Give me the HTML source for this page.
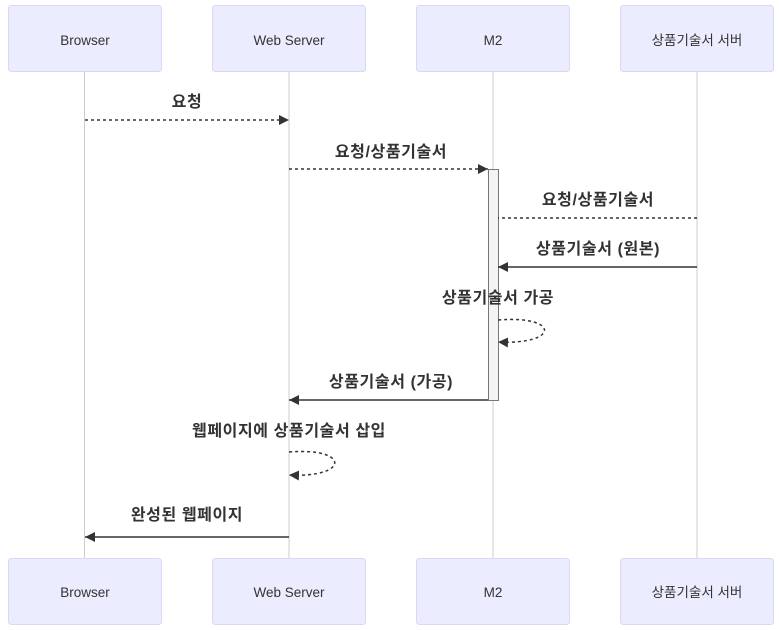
<!DOCTYPE html>
<html><head><meta charset="utf-8"><style>
body{margin:0;background:#fff;}
svg{display:block;font-family:"Liberation Sans","Noto Sans CJK KR",sans-serif;}
.box{fill:#ECECFF;stroke:#DCD6F7;stroke-width:1;}
.bt{font-size:13.5px;fill:#333;text-anchor:middle;}
.ml{font-size:16px;letter-spacing:0.6px;font-weight:bold;fill:#333;text-anchor:middle;}
.ll{stroke:#ccc;stroke-width:1;}
.m{stroke:#333;stroke-width:1.5;fill:none;}
.d{stroke-dasharray:3,3;}
</style></head><body>
<svg width="779" height="630" viewBox="0 0 779 630">
<defs><marker id="a" markerWidth="12" markerHeight="12" refX="10" refY="5" orient="auto" markerUnits="userSpaceOnUse"><path d="M0,0 L10,5 L0,10 z" fill="#333"/></marker></defs>
<line class="ll" x1="84.5" y1="71" x2="84.5" y2="558"/>
<line class="ll" x1="289" y1="71" x2="289" y2="558"/>
<line class="ll" x1="493" y1="71" x2="493" y2="558"/>
<line class="ll" x1="697" y1="71" x2="697" y2="558"/>
<g>
<rect class="box" x="8.5" y="5.5" width="153" height="66" rx="3"/><text class="bt" x="85" y="45">Browser</text>
<rect class="box" x="212.5" y="5.5" width="153" height="66" rx="3"/><text class="bt" x="289" y="45">Web Server</text>
<rect class="box" x="416.5" y="5.5" width="153" height="66" rx="3"/><text class="bt" x="493" y="45">M2</text>
<rect class="box" x="620.5" y="5.5" width="153" height="66" rx="3"/><text class="bt" x="697" y="45">상품기술서 서버</text>
<rect class="box" x="8.5" y="558.5" width="153" height="66" rx="3"/><text class="bt" x="85" y="597">Browser</text>
<rect class="box" x="212.5" y="558.5" width="153" height="66" rx="3"/><text class="bt" x="289" y="597">Web Server</text>
<rect class="box" x="416.5" y="558.5" width="153" height="66" rx="3"/><text class="bt" x="493" y="597">M2</text>
<rect class="box" x="620.5" y="558.5" width="153" height="66" rx="3"/><text class="bt" x="697" y="597">상품기술서 서버</text>
</g>
<rect x="488.5" y="169.5" width="10" height="231" fill="#f4f4f4" stroke="#777"/>
<text class="ml" x="187" y="107">요청</text>
<line class="m d" x1="85" y1="120" x2="289" y2="120" marker-end="url(#a)"/>
<text class="ml" x="391" y="157">요청/상품기술서</text>
<line class="m d" x1="289" y1="169" x2="488" y2="169" marker-end="url(#a)"/>
<text class="ml" x="598" y="205">요청/상품기술서</text>
<line class="m d" x1="697" y1="218" x2="498" y2="218"/>
<text class="ml" x="598" y="254">상품기술서 (원본)</text>
<line class="m" x1="697" y1="267" x2="498" y2="267" marker-end="url(#a)"/>
<text class="ml" x="498" y="303">상품기술서 가공</text>
<path class="m d" d="M498,320 C560,315 560,345 498,342" marker-end="url(#a)"/>
<text class="ml" x="391" y="387">상품기술서 (가공)</text>
<line class="m" x1="488" y1="400" x2="289" y2="400" marker-end="url(#a)"/>
<text class="ml" x="289" y="436">웹페이지에 상품기술서 삽입</text>
<path class="m d" d="M289,452 C350,447 350,478 289,475" marker-end="url(#a)"/>
<text class="ml" x="187" y="520">완성된 웹페이지</text>
<line class="m" x1="289" y1="537" x2="85" y2="537" marker-end="url(#a)"/>
</svg>
</body></html>
